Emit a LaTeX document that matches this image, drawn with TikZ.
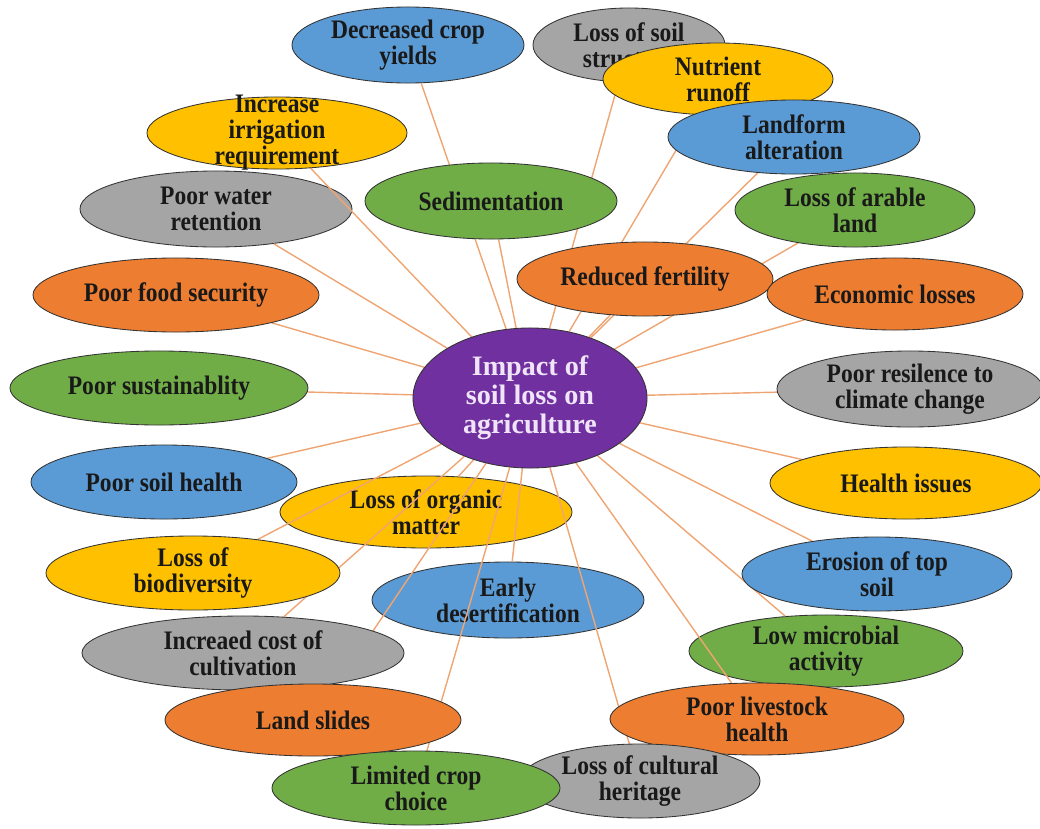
\documentclass[tikz,border=0pt]{standalone}
\usepackage{fontspec}
\setmainfont{Liberation Serif}[FakeStretch=0.88]
\newfontfamily\hubfont{Liberation Serif}
\usetikzlibrary{shapes.geometric}
\definecolor{oblue}{HTML}{5B9BD5}
\definecolor{ogray}{HTML}{A5A5A5}
\definecolor{oyellow}{HTML}{FFC000}
\definecolor{ogreen}{HTML}{70AD47}
\definecolor{oorange}{HTML}{ED7D31}
\definecolor{opurple}{HTML}{7030A0}
\definecolor{olink}{RGB}{238,165,115}
\pgfdeclarelayer{back}
\pgfdeclarelayer{links}
\pgfsetlayers{back,links,main}

\begin{document}
\begin{tikzpicture}[x=0.025cm, y=-0.025cm,
    oval/.style={ellipse, draw=black!80, line width=0.6pt, inner sep=-4pt, align=center,
        text=black!90, font=\bfseries\fontsize{19}{18.5}\selectfont},
    link/.style={draw=olink, line width=1pt}]
    \useasboundingbox (0,0) rectangle (1040,829);
    % centre
    \node[oval, fill=opurple, text={rgb,255:red,240;green,228;blue,248},
        font=\hubfont\bfseries\fontsize{20}{20.5}\selectfont,
        minimum width=5.85cm, minimum height=3.5cm] (hub) at (530,398)
        {Impact of\\soil loss on\\agriculture};
    % ovals that the links run over
    \begin{pgfonlayer}{back}
        \node[oval, fill=ogray, minimum width=6.8cm, minimum height=1.9cm] (retention) at (216,209) {Poor water\\retention};
        \node[oval, fill=oyellow, minimum width=7.3cm, minimum height=1.8cm] (organic) at (426,512) {Loss of organic\\matter};
        \node[oval, fill=oblue, minimum width=6.8cm, minimum height=1.9cm] (desert) at (508,600) {Early\\desertification};
        \node[oval, fill=ogreen, minimum width=6.85cm, minimum height=1.8cm] (microbial) at (826,651) {Low microbial\\activity};
    \end{pgfonlayer}
    % top
    \node[oval, fill=oblue, minimum width=5.8cm, minimum height=1.9cm] (yields) at (408,45) {Decreased crop\\yields};
    \node[oval, fill=ogray, minimum width=4.8cm, minimum height=1.85cm] (structure) at (629,45) {Loss of soil\\structure};
    \node[oval, fill=oyellow, minimum width=5.75cm, minimum height=1.8cm] (runoff) at (718,79) {Nutrient\\runoff};
    \node[oval, fill=oblue, minimum width=6.3cm, minimum height=1.85cm] (landform) at (794,137) {Landform\\alteration};
    \node[oval, fill=ogreen, minimum width=6cm, minimum height=1.85cm] (arable) at (855,210) {Loss of arable\\land};
    \node[oval, fill=oyellow, inner ysep=-9pt, minimum width=6.5cm, minimum height=1.8cm] (irrigation) at (277,133) {Increase\\irrigation\\requirement};
    \node[oval, fill=ogreen, minimum width=6.3cm, minimum height=1.9cm] (sediment) at (491,201) {Sedimentation};
    \node[oval, fill=oorange, minimum width=6.4cm, minimum height=1.85cm] (fertility) at (645,279) {Reduced fertility};
    \node[oval, fill=oorange, minimum width=6.4cm, minimum height=1.8cm] (economic) at (895,294) {Economic losses};
    % left and right
    \node[oval, fill=oorange, minimum width=7.15cm, minimum height=1.85cm] (food) at (176,295) {Poor food security};
    \node[oval, fill=ogreen, minimum width=7.45cm, minimum height=1.85cm] (sustain) at (159,388) {Poor sustainablity};
    \node[oval, fill=ogray, minimum width=6.65cm, minimum height=1.9cm] (climate) at (910,389) {Poor resilence to\\climate change};
    \node[oval, fill=oyellow, minimum width=6.8cm, minimum height=1.8cm] (issues) at (906,483) {Health issues};
    \node[oval, fill=oblue, minimum width=6.65cm, minimum height=1.85cm] (soilhealth) at (164,482) {Poor soil health};
    \node[oval, fill=oyellow, minimum width=7.35cm, minimum height=1.85cm] (biodiv) at (193,573) {Loss of\\biodiversity};
    \node[oval, fill=oblue, minimum width=6.75cm, minimum height=1.85cm] (topsoil) at (877,574) {Erosion of top\\soil};
    % bottom
    \node[oval, fill=ogray, minimum width=8.05cm, minimum height=1.85cm] (cost) at (243,653) {Increaed cost of\\cultivation};
    \node[oval, fill=oorange, minimum width=7.4cm, minimum height=1.8cm] (slides) at (313,720) {Land slides};
    \node[oval, fill=oorange, minimum width=7.35cm, minimum height=1.8cm] (livestock) at (757,719) {Poor livestock\\health};
    \node[oval, fill=ogray, minimum width=6cm, minimum height=1.85cm] (heritage) at (640,781) {Loss of cultural\\heritage};
    \node[oval, fill=ogreen, minimum width=7.2cm, minimum height=1.85cm] (choice) at (416,788) {Limited crop\\choice};
    % spokes
    \begin{pgfonlayer}{links}
        \draw[link] (hub) -- (yields) (hub) -- (structure) (hub) -- (runoff)
            (hub) -- (landform) (hub) -- (arable) (hub) -- (irrigation)
            (hub) -- (sediment) (hub) -- (retention) (hub) -- (fertility)
            (hub) -- (economic) (hub) -- (food) (hub) -- (sustain)
            (hub) -- (climate) (hub) -- (issues) (hub) -- (soilhealth)
            (hub) -- (organic) (hub) -- (biodiv) (hub) -- (desert)
            (hub) -- (topsoil) (hub) -- (cost) (hub) -- (microbial)
            (hub) -- (slides) (hub) -- (livestock) (hub) -- (heritage)
            (hub) -- (choice);
    \end{pgfonlayer}
\end{tikzpicture}
\end{document}
